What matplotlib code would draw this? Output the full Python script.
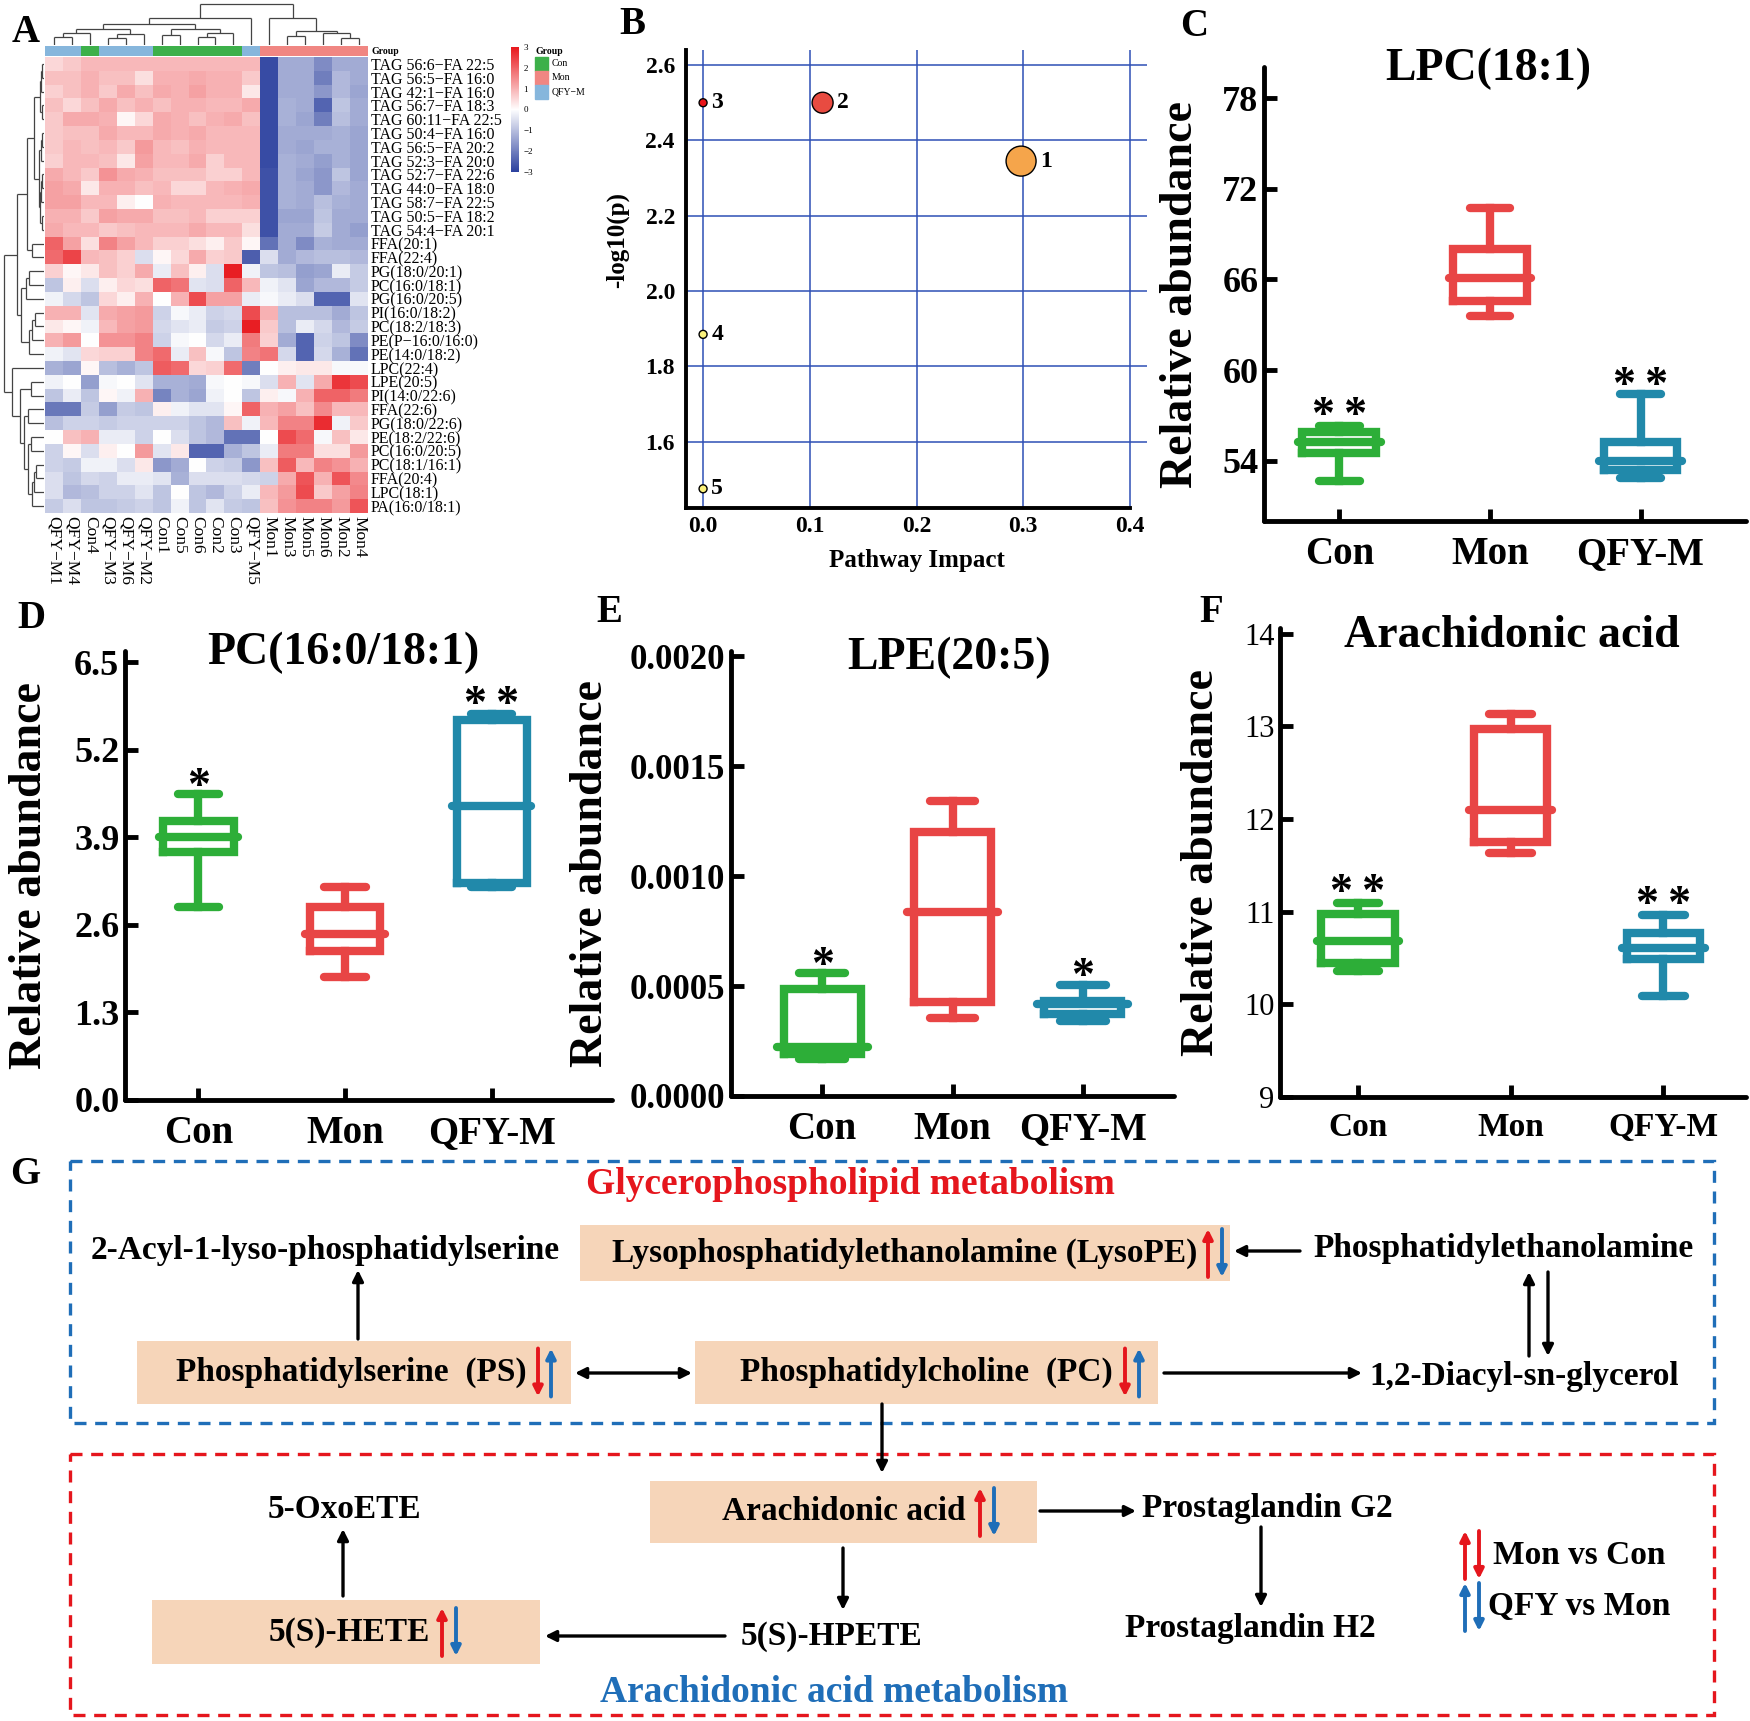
import numpy as np
import matplotlib
matplotlib.use("Agg")
import matplotlib.pyplot as plt
from matplotlib.colors import LinearSegmentedColormap, ListedColormap
from matplotlib.collections import LineCollection
from matplotlib.patches import Rectangle

W, H = 1750, 1721
plt.rcParams['font.family'] = ['Liberation Serif', 'DejaVu Serif']

# ---------------- data: panel A (heatmap) ----------------
samples = ['QFY−M1', 'QFY−M4', 'Con4', 'QFY−M3', 'QFY−M6', 'QFY−M2', 'Con1', 'Con5', 'Con6',
           'Con2', 'Con3', 'QFY−M5', 'Mon1', 'Mon3', 'Mon5', 'Mon6', 'Mon2', 'Mon4']
sample_group = ['QFY−M', 'QFY−M', 'Con', 'QFY−M', 'QFY−M', 'QFY−M', 'Con', 'Con', 'Con',
                'Con', 'Con', 'QFY−M', 'Mon', 'Mon', 'Mon', 'Mon', 'Mon', 'Mon']
group_names = ['Con', 'Mon', 'QFY−M']
group_colors = ['#3DB04A', '#F08682', '#86B6DC']

lipids = ['TAG 56:6−FA 22:5', 'TAG 56:5−FA 16:0', 'TAG 42:1−FA 16:0', 'TAG 56:7−FA 18:3',
          'TAG 60:11−FA 22:5', 'TAG 50:4−FA 16:0', 'TAG 56:5−FA 20:2', 'TAG 52:3−FA 20:0',
          'TAG 52:7−FA 22:6', 'TAG 44:0−FA 18:0', 'TAG 58:7−FA 22:5', 'TAG 50:5−FA 18:2',
          'TAG 54:4−FA 20:1', 'FFA(20:1)', 'FFA(22:4)', 'PG(18:0/20:1)', 'PC(16:0/18:1)',
          'PG(16:0/20:5)', 'PI(16:0/18:2)', 'PC(18:2/18:3)', 'PE(P−16:0/16:0)', 'PE(14:0/18:2)',
          'LPC(22:4)', 'LPE(20:5)', 'PI(14:0/22:6)', 'FFA(22:6)', 'PG(18:0/22:6)', 'PE(18:2/22:6)',
          'PC(16:0/20:5)', 'PC(18:1/16:1)', 'FFA(20:4)', 'LPC(18:1)', 'PA(16:0/18:1)']

zscore = np.array([
    [0.5, 0.7, 0.9, 0.9, 0.9, 0.9, 0.9, 0.9, 0.9, 0.9, 0.9, 0.9, -2.8, -1.3, -1.3, -1.8, -1.3, -1.3],
    [0.8, 0.8, 1.0, 0.8, 0.8, 0.4, 1.0, 1.0, 1.1, 1.0, 1.0, 0.7, -2.8, -1.3, -1.3, -2.0, -1.1, -1.3],
    [0.6, 0.8, 1.0, 0.7, 1.1, 0.8, 1.1, 1.0, 1.2, 1.0, 1.0, 0.3, -2.8, -1.3, -1.3, -1.6, -1.1, -1.4],
    [0.8, 0.5, 0.8, 1.1, 0.8, 1.0, 0.8, 1.0, 1.0, 0.9, 0.9, 1.1, -2.8, -1.2, -1.3, -2.4, -0.9, -1.3],
    [0.7, 1.1, 1.1, 1.0, 0.1, 0.5, 1.1, 1.0, 0.8, 1.0, 1.1, 0.8, -2.8, -1.2, -1.4, -2.0, -1.0, -1.3],
    [0.7, 0.8, 0.8, 1.1, 0.9, 0.9, 1.1, 1.0, 1.1, 0.9, 0.9, 0.9, -2.8, -1.3, -1.3, -1.3, -1.2, -1.4],
    [0.7, 0.9, 0.8, 0.9, 0.7, 1.3, 0.9, 0.8, 1.0, 0.9, 0.9, 0.9, -2.8, -1.3, -1.4, -1.2, -1.2, -1.4],
    [0.6, 0.9, 0.9, 0.8, 0.3, 1.2, 0.9, 0.9, 1.1, 0.6, 0.9, 0.9, -2.8, -1.2, -1.3, -1.5, -1.2, -1.4],
    [1.1, 0.9, 0.7, 1.4, 1.1, 1.0, 0.8, 0.8, 0.8, 0.6, 0.6, 0.9, -2.7, -1.2, -1.4, -1.6, -0.9, -1.4],
    [1.2, 1.1, 0.3, 1.0, 1.0, 0.8, 0.9, 0.5, 0.5, 0.9, 1.0, 1.1, -2.7, -1.2, -1.3, -1.6, -1.1, -1.3],
    [1.2, 1.2, 0.9, 0.9, 0.2, 0.0, 1.0, 0.9, 0.9, 0.9, 0.9, 1.0, -2.7, -1.2, -1.3, -1.0, -1.2, -1.3],
    [1.0, 1.0, 0.7, 1.2, 1.1, 1.1, 0.8, 0.8, 0.9, 0.6, 0.6, 0.6, -2.7, -1.4, -1.4, -0.9, -1.3, -1.3],
    [1.1, 0.9, 0.9, 0.7, 0.8, 0.9, 0.9, 0.9, 1.1, 0.9, 0.9, 0.4, -2.7, -1.3, -1.3, -0.8, -1.3, -1.5],
    [2.0, 1.2, 0.4, 1.6, 1.2, 0.9, 0.6, 0.6, 0.4, 0.2, 0.7, 0.1, -2.2, -1.3, -1.8, -1.2, -1.3, -1.3],
    [1.9, 2.4, 0.9, 0.8, 0.6, -0.5, 0.1, 0.5, 1.1, 0.6, 0.7, -2.5, -0.5, -1.3, -1.1, -1.0, -1.0, -1.1],
    [0.6, 0.1, 0.3, 0.8, 0.6, 1.1, -0.3, 0.8, 0.2, -0.5, 2.9, -0.2, -0.9, -1.0, -1.5, -1.4, -0.3, -0.8],
    [-0.9, 0.2, -0.5, 0.2, 0.5, 0.4, 2.0, 1.8, -0.4, -0.5, 2.0, 0.9, -0.2, -0.4, -1.4, -1.1, -1.1, -0.8],
    [-0.2, -0.6, -0.9, 0.5, 0.2, 1.0, 0.0, 1.0, 2.3, 1.2, 1.2, -0.3, -0.1, -0.3, -0.5, -2.4, -2.4, -0.4],
    [1.0, 1.0, -0.4, 1.1, 1.2, 1.3, -0.7, -0.1, -0.3, -0.7, -0.6, 2.3, 1.0, -1.0, -1.0, -1.0, -1.3, -0.9],
    [0.3, 0.1, -0.2, 0.9, 1.2, 1.3, -0.6, -0.4, -0.3, -0.8, -0.7, 2.9, 0.7, -1.0, -0.3, -0.6, -1.1, -0.8],
    [1.0, 1.3, 0.0, 1.4, 1.4, 1.6, -0.7, -0.1, 0.0, -0.6, -0.3, 1.7, 0.6, -1.3, -2.4, -0.7, -0.9, -1.8],
    [-0.2, -0.4, 0.5, 0.6, 0.6, 1.6, 1.9, -0.3, 0.8, -0.1, -0.9, 1.6, 1.8, -0.6, -2.4, -0.6, -1.2, -2.2],
    [-1.2, -1.4, 0.1, -1.0, -1.2, -0.9, 2.1, 1.9, 0.5, 0.6, 1.9, -2.0, 0.0, 0.2, 0.3, 0.3, -0.1, -0.1],
    [-0.2, 0.0, -1.5, -0.1, 0.0, -0.4, -1.2, -1.2, -1.3, -0.1, 0.0, -0.1, -0.5, 1.0, -0.4, 1.1, 2.6, 2.3],
    [-0.9, -0.3, -0.9, 0.1, -0.2, 1.0, -1.9, -1.2, -1.4, -0.2, 0.0, -0.9, 0.2, -0.1, 1.0, 2.0, 2.0, 1.7],
    [-2.1, -2.1, -0.8, -1.5, -0.8, -0.9, 0.2, -0.2, -0.4, -0.4, 0.1, 2.0, 1.0, 1.2, 0.8, 1.5, 0.9, 0.9],
    [-1.0, -0.7, -0.7, -0.8, -0.7, -0.7, -0.7, -0.7, -0.9, -1.1, 0.8, -0.2, 0.9, 1.6, 1.6, 2.7, -0.2, 0.7],
    [0.0, 0.8, 1.0, -0.3, -0.3, -0.7, 0.0, -0.5, -0.9, -1.1, -2.2, -2.2, 0.0, 2.3, 1.9, -0.1, 0.8, 0.3],
    [-0.7, 0.1, -0.5, 0.2, 0.0, 1.3, -0.4, 0.3, -2.4, -2.4, -1.2, -0.9, -0.3, 1.7, 1.7, 0.4, 0.4, 1.3],
    [-0.7, -0.8, -0.2, -0.2, -0.5, 0.3, -1.6, -1.3, 0.0, -0.7, -0.8, -1.6, 0.8, 2.1, 0.9, 1.6, 1.4, 1.0],
    [-0.5, -0.9, -0.6, -0.7, -0.3, -0.3, -0.4, -1.2, -0.5, -0.5, -0.5, -0.6, -0.7, 1.1, 2.2, 1.0, 2.2, 1.5],
    [-0.5, -1.1, -1.0, -0.7, -0.7, -0.4, -0.9, 0.0, -0.9, -1.1, -0.7, -0.3, 0.9, 1.3, 2.3, 0.7, 1.2, 1.6],
    [-0.8, -0.5, -0.9, -0.9, -0.8, -0.7, -0.9, -0.2, -0.9, -0.4, -0.8, -0.9, 0.8, 1.4, 1.6, 1.6, 1.3, 2.2],
])

# cluster trees: (left, right, merge height), leaves are row / column indices
col_tree = (((((((0, 1, 0.2), 2, 0.28), ((3, 4, 0.18), 5, 0.26), 0.38),
               ((6, 7, 0.24), ((8, 9, 0.2), 10, 0.3), 0.38), 0.51), 11, 0.66),
             (12, ((13, 14, 0.22), (15, (16, 17, 0.16), 0.28), 0.34), 0.66), 1.0))
row_tree = (((((((0, 1, 0.05), 2, 0.07), (3, 4, 0.06), 0.1),
               (((5, 6, 0.05), 7, 0.07), (((8, 9, 0.05), 10, 0.08), (11, 12, 0.06), 0.1), 0.12), 0.25),
              (13, 14, 0.3), 0.42),
             (((15, 16, 0.38), 17, 0.45), (((18, 19, 0.22), 20, 0.3), 21, 0.38), 0.56), 0.68),
            (22, ((23, 24, 0.32), ((25, 26, 0.4), ((27, 28, 0.33),
                  (((29, 30, 0.2), 31, 0.24), 32, 0.3), 0.4), 0.5), 0.6), 0.8), 1.0)

# ---------------- data: panel B (pathway bubbles) ----------------
pathway_id = ['1', '2', '3', '4', '5']
impact = [0.298, 0.112, 0.0, 0.0, 0.0]
neg_log_p = [2.345, 2.50, 2.50, 1.885, 1.475]
bubble_radius_px = [15, 10.5, 4, 4, 4]
bubble_colors = ['#F5A54B', '#E84B41', '#E8141B', '#FBF27C', '#FBF27C']

# ---------------- data: panels C-F (box plots: whislo, q1, med, q3, whishi) ----------------
groups = ['Con', 'Mon', 'QFY-M']
box_colors = ['#2DAE38', '#E84545', '#2189AA']
two_star = '*\u2009*'
lpc181 = [(52.65, 54.5, 55.25, 55.9, 56.3), (63.6, 64.6, 66.1, 68.0, 70.7), (52.85, 53.4, 54.0, 55.2, 58.4)]
lpc181_sig = [two_star, '', two_star]
lpc181_sig_y = [57.6, None, 59.6]
pc160181 = [(2.86, 3.68, 3.91, 4.14, 4.54), (1.83, 2.22, 2.47, 2.86, 3.17), (3.17, 3.22, 4.37, 5.65, 5.73)]
pc160181_sig = ['*', '', two_star]
pc160181_sig_y = [4.8, None, 6.02]
lpe205 = [(0.000170, 0.000190, 0.000225, 0.000487, 0.000558),
          (0.000353, 0.000430, 0.000838, 0.001200, 0.001342),
          (0.000342, 0.000375, 0.000417, 0.000433, 0.000505)]
lpe205_sig = ['*', '', '*']
lpe205_sig_y = [0.000640, None, 0.000590]
arach = [(10.36, 10.45, 10.68, 10.97, 11.09), (11.63, 11.75, 12.10, 12.97, 13.13), (10.09, 10.49, 10.61, 10.77, 10.96)]
arach_sig = [two_star, '', two_star]
arach_sig_y = [11.31, None, 11.18]


def rect(l, t, r, b):
    return [l / W, 1 - b / H, (r - l) / W, (b - t) / H]


def dendro(node):
    if isinstance(node, int):
        return float(node), 0.0, []
    left, right, h = node
    pl, hl, sl = dendro(left)
    pr, hr, sr = dendro(right)
    segs = sl + sr + [[(pl, hl), (pl, h)], [(pr, hr), (pr, h)], [(pl, h), (pr, h)]]
    return (pl + pr) / 2, h, segs


fig = plt.figure(figsize=(W / 100, H / 100), dpi=100)
# transparent overlay in pixel coordinates, drawn on top of the panels
ov = fig.add_axes([0, 0, 1, 1])
ov.set_xlim(0, W)
ov.set_ylim(H, 0)
ov.axis('off')
ov.set_zorder(10)

# panel letters
for letter, (lx, ly) in zip('ABCDEFG', [(26, 33), (632, 25), (1194, 27), (31, 619), (609, 612),
                                        (1211, 612), (25, 1175)]):
    ov.text(lx, ly, letter, fontsize=28, fontweight='bold', ha='center', va='center')

# ================= A =================
cmap = LinearSegmentedColormap.from_list('bwr_hm', ['#2A3F9E', '#FFFFFF', '#E8171C'])
axH = fig.add_axes(rect(45, 57, 368, 513))
im = axH.imshow(zscore, cmap=cmap, vmin=-3, vmax=3, aspect='auto', interpolation='nearest')
axH.yaxis.tick_right()
axH.set_yticks(np.arange(len(lipids)), lipids, fontsize=11.5)
axH.set_xticks(np.arange(len(samples)), samples, fontsize=12.5, rotation=270)
axH.tick_params(length=0, pad=2)
for s in axH.spines.values():
    s.set_visible(False)

axGb = fig.add_axes(rect(45, 46, 368, 56))
gidx = [group_names.index(g) for g in sample_group]
axGb.imshow([gidx], cmap=ListedColormap(group_colors), vmin=-0.5, vmax=2.5, aspect='auto')
axGb.axis('off')
ov.text(372, 51, 'Group', fontsize=7, fontweight='bold', va='center')

axCD = fig.add_axes(rect(45, 3, 368, 45))
_, _, segs = dendro(col_tree)
axCD.add_collection(LineCollection(segs, colors='#444444', lw=0.9))
axCD.set_xlim(-0.5, len(samples) - 0.5)
axCD.set_ylim(0, 1.02)
axCD.axis('off')

axRD = fig.add_axes(rect(3, 57, 44, 513))
_, _, segs = dendro(row_tree)
axRD.add_collection(LineCollection([[(h, p) for p, h in sg] for sg in segs], colors='#444444', lw=0.9))
axRD.set_xlim(1.02, 0)
axRD.set_ylim(len(lipids) - 0.5, -0.5)
axRD.axis('off')

cax = fig.add_axes(rect(511, 47, 519, 172))
cb = fig.colorbar(im, cax=cax, ticks=[-3, -2, -1, 0, 1, 2, 3])
cb.outline.set_visible(False)
cb.set_ticklabels(['−3', '−2', '−1', '0', '1', '2', '3'])
cax.tick_params(labelsize=6.5, length=0, pad=3)

ov.text(535, 51, 'Group', fontsize=7, fontweight='bold', va='center')
for i, (g, c) in enumerate(zip(group_names, group_colors)):
    ov.add_patch(Rectangle((535, 57 + 14 * i), 13, 14, color=c))
    ov.text(552, 64 + 14 * i, g, fontsize=7, va='center')

# ================= B =================
axB = fig.add_axes(rect(686, 50, 1147, 508))
axB.set_xlim(-0.016, 0.416)
axB.set_ylim(1.424, 2.64)
axB.set_axisbelow(True)
axB.grid(True, color='#2E4FB5', lw=1.1)
r_pt = np.array(bubble_radius_px) * 0.72
axB.scatter(impact, neg_log_p, s=(2 * r_pt) ** 2, c=bubble_colors, edgecolors='black', linewidths=1.0,
            zorder=3)
for pid, x, y, r in zip(pathway_id, impact, neg_log_p, r_pt):
    axB.annotate(pid, (x, y), xytext=(r + 3, 0), textcoords='offset points', ha='left', va='center',
                 fontsize=17, fontweight='bold')
axB.set_xticks([0.0, 0.1, 0.2, 0.3, 0.4], ['0.0', '0.1', '0.2', '0.3', '0.4'], fontsize=17,
               fontweight='bold')
axB.set_yticks([1.6, 1.8, 2.0, 2.2, 2.4, 2.6], ['1.6', '1.8', '2.0', '2.2', '2.4', '2.6'], fontsize=17,
               fontweight='bold')
axB.tick_params(length=0)
axB.tick_params(axis='x', pad=6)
axB.tick_params(axis='y', pad=8)
for side in ['top', 'right']:
    axB.spines[side].set_visible(False)
for side in ['left', 'bottom']:
    axB.spines[side].set_linewidth(2.8)
axB.spines['bottom'].set_bounds(-0.016, 0.4)
ov.text(917, 561, 'Pathway Impact', fontsize=18, fontweight='bold', ha='center', va='center')
ov.text(617, 240, '-log10(p)', fontsize=18, fontweight='bold', ha='center', va='center', rotation=90)


# ================= C-F =================
def box_panel(box, stats, sig, sig_y, xlim, ylim, yticks, yticklabels, box_w, cap_w, med_w,
              ytick_fs, ytick_weight, xtick_fs, title, title_xy, ylabel_x):
    ax = fig.add_axes(rect(*box))
    pos = [1, 2, 3]
    for p, st, c in zip(pos, stats, box_colors):
        d = dict(whislo=st[0], q1=st[1], med=st[2], q3=st[3], whishi=st[4])
        ax.bxp([d], positions=[p], widths=box_w, capwidths=cap_w, showfliers=False, manage_ticks=False,
               boxprops=dict(color=c, lw=6, solid_joinstyle='miter'),
               whiskerprops=dict(color=c, lw=6),
               capprops=dict(color=c, lw=6, solid_capstyle='round'),
               medianprops=dict(color=c, lw=0))
        ax.hlines(st[2], p - med_w / 2, p + med_w / 2, color=c, lw=6, capstyle='round')
    for p, txt, y in zip(pos, sig, sig_y):
        if txt:
            ax.annotate(txt, (p, y), xytext=(0, -16), textcoords='offset points', ha='center',
                        va='baseline', fontsize=33, fontweight='bold')
    ax.set_xlim(*xlim)
    ax.set_ylim(*ylim)
    ax.set_yticks(yticks, yticklabels, fontsize=ytick_fs, fontweight=ytick_weight)
    ax.set_xticks(pos, groups, fontsize=xtick_fs, fontweight='bold')
    ax.tick_params(direction='in', length=9, width=3.5)
    ax.tick_params(axis='y', pad=4)
    ax.tick_params(axis='x', pad=11)
    for side in ['top', 'right']:
        ax.spines[side].set_visible(False)
    for side in ['left', 'bottom']:
        ax.spines[side].set_linewidth(3.5)
        ax.spines[side].set_capstyle('round')
    ov.text(title_xy[0], title_xy[1], title, fontsize=33, fontweight='bold', ha='center', va='center')
    ov.text(ylabel_x, (box[1] + box[3]) / 2, 'Relative abundance', fontsize=33, fontweight='bold',
            ha='center', va='center', rotation=90)
    return ax


box_panel((1264, 67, 1746, 521), lpc181, lpc181_sig, lpc181_sig_y, (0.5, 3.7), (50, 80.07),
          [54, 60, 66, 72, 78], ['54', '60', '66', '72', '78'], 0.49, 0.27, 0.55, 26, 'bold', 28,
          'LPC(18:1)', (1488, 69), 1181)
box_panel((125, 651, 612, 1100), pc160181, pc160181_sig, pc160181_sig_y, (0.5, 3.82), (0, 6.67),
          [0, 1.3, 2.6, 3.9, 5.2, 6.5], ['0.0', '1.3', '2.6', '3.9', '5.2', '6.5'], 0.48, 0.28, 0.54,
          26, 'bold', 28, 'PC(16:0/18:1)', (343, 653), 30)
box_panel((731, 651, 1174, 1096), lpe205, lpe205_sig, lpe205_sig_y, (0.3, 3.7), (0, 0.002025),
          [0, 0.0005, 0.001, 0.0015, 0.002], ['0.0000', '0.0005', '0.0010', '0.0015', '0.0020'],
          0.59, 0.35, 0.70, 25, 'bold', 28, 'LPE(20:5)', (949, 658), 591)
box_panel((1280, 628, 1746, 1097), arach, arach_sig, arach_sig_y, (0.49, 3.54), (9, 14.06),
          [9, 10, 11, 12, 13, 14], ['9', '10', '11', '12', '13', '14'], 0.48, 0.28, 0.54,
          22, 'normal', 24, 'Arachidonic acid', (1512, 636), 1202)

# ================= G =================
BLUE = '#1F6EB8'
RED = '#E5161D'
PEACH = '#F6D5B9'
ov.add_patch(Rectangle((70, 1161), 1644, 262, fill=False, ec=BLUE, lw=2.4, ls=(0, (3.6, 2.6))))
ov.add_patch(Rectangle((70, 1454), 1644, 261, fill=False, ec=RED, lw=2.4, ls=(0, (3.6, 2.6))))

ov.text(850, 1185, 'Glycerophospholipid metabolism', fontsize=27, fontweight='bold', color=RED,
        ha='center', va='center')
ov.text(834, 1693, 'Arachidonic acid metabolism', fontsize=27, fontweight='bold', color=BLUE,
        ha='center', va='center')

# highlighted metabolites: box (l, t, r, b), label, label right end, arrow x, red/blue direction
boxes = [
    ((580, 1225, 1230, 1281), 'Lysophosphatidylethanolamine (LysoPE)', 1197, (1208, 1222), ('up', 'down')),
    ((137, 1341, 571, 1404), 'Phosphatidylserine  (PS)', 527, (538, 551), ('down', 'up')),
    ((695, 1341, 1158, 1404), 'Phosphatidylcholine  (PC)', 1113, (1125, 1139), ('down', 'up')),
    ((650, 1481, 1037, 1543), 'Arachidonic acid', 966, (980, 994), ('up', 'down')),
    ((152, 1600, 540, 1664), '5(S)-HETE', 430, (442, 456), ('up', 'down')),
]


def updown(x, yc, direction, color):
    y0, y1 = (yc + 24, yc - 24) if direction == 'up' else (yc - 24, yc + 24)
    ov.annotate('', xy=(x, y1), xytext=(x, y0),
                arrowprops=dict(arrowstyle='-|>', color=color, lw=2.8, mutation_scale=14,
                                shrinkA=0, shrinkB=0))


for (l, t, r, b), label, xend, (xr, xb), (dr, db) in boxes:
    ov.add_patch(Rectangle((l, t), r - l, b - t, color=PEACH, lw=0))
    yc = (t + b) / 2
    ov.text(xend, yc, label, fontsize=24, fontweight='bold', ha='right', va='center')
    updown(xr, yc, dr, RED)
    updown(xb, yc, db, BLUE)

plain = [
    ('2-Acyl-1-lyso-phosphatidylserine', 325, 1251),
    ('Phosphatidylethanolamine', 1504, 1249),
    ('1,2-Diacyl-sn-glycerol', 1524, 1376),
    ('Prostaglandin G2', 1267, 1509),
    ('Prostaglandin H2', 1250, 1629),
    ('5(S)-HPETE', 831, 1636),
    ('5-OxoETE', 344, 1509),
]
for txt, x, y in plain:
    ov.text(x, y, txt, fontsize=24, fontweight='bold', ha='center', va='center')

arrows = [
    ((358, 1339), (358, 1270), '-|>'),
    ((575, 1373), (692, 1373), '<|-|>'),
    ((1164, 1373), (1362, 1373), '-|>'),
    ((1300, 1251), (1234, 1251), '-|>'),
    ((1529, 1356), (1529, 1272), '-|>'),
    ((1548, 1272), (1548, 1356), '-|>'),
    ((882, 1404), (882, 1473), '-|>'),
    ((1040, 1511), (1136, 1511), '-|>'),
    ((1261, 1527), (1261, 1607), '-|>'),
    ((843, 1548), (843, 1610), '-|>'),
    ((725, 1636), (545, 1636), '-|>'),
    ((343, 1596), (343, 1529), '-|>'),
]
for start, end, style in arrows:
    ov.annotate('', xy=end, xytext=start,
                arrowprops=dict(arrowstyle=style, color='black', lw=2.4, mutation_scale=16,
                                shrinkA=0, shrinkB=0))

# legend for the arrows
updown(1465, 1555, 'up', RED)
updown(1479, 1555, 'down', RED)
ov.text(1493, 1555, 'Mon vs Con', fontsize=24, fontweight='bold', ha='left', va='center')
updown(1465, 1607, 'up', BLUE)
updown(1479, 1607, 'down', BLUE)
ov.text(1488, 1607, 'QFY vs Mon', fontsize=24, fontweight='bold', ha='left', va='center')

fig.savefig('out.png', dpi=100)
